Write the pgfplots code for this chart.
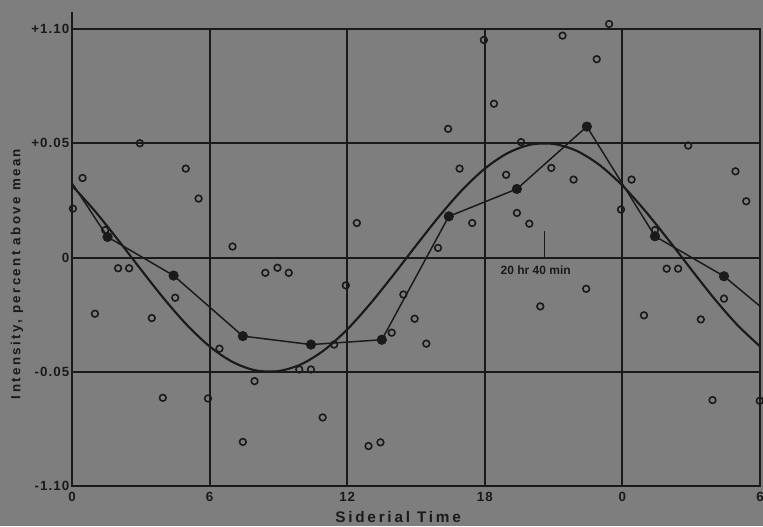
\documentclass[border=0pt]{standalone}
\usepackage{fontspec}
\setmainfont{Liberation Sans}
\newfontfamily\lett[LetterSpace=8]{Liberation Sans}
\newfontfamily\lettwide[LetterSpace=18]{Liberation Sans}
\usepackage{pgfplots}
\pgfplotsset{compat=1.18}
\definecolor{bg}{HTML}{7E7E7E}
\definecolor{ink}{HTML}{1A1A1A}
\begin{document}
\begin{tikzpicture}
\path[use as bounding box, fill=bg] (-54pt,-30pt) rectangle (518.25pt,364.5pt);
\begin{axis}[
  at={(0,0)}, anchor=south west,
  scale only axis, width=516pt, height=342.75pt,
  xmin=0, xmax=30, ymin=-0.1, ymax=0.1,
  clip=false,
  axis line style={draw=ink, line width=1.5pt},
  grid=major, major grid style={draw=ink, line width=1.5pt},
  major tick length=0pt,
  xtick={0,6,12,18,24,30}, xticklabels={0,6,12,18,0,6},
  ytick={-0.1,-0.05,0,0.05,0.1}, yticklabels={-1.10,-0.05,0,+0.05,+1.10},
  tick label style={font=\lett\bfseries\fontsize{10}{12}\selectfont, text=ink},
  yticklabel style={xshift=1.5pt},
  xticklabel style={yshift=-1pt},
]
% extension of left spine above the frame
\addplot[ink, line width=1.5pt] coordinates {(0,0.1) (0,0.1075)};
% fitted sinusoid
\addplot[ink, line width=1.6pt, smooth] coordinates {
(0,0.0315) (1,0.0203) (2,0.0078) (3,-0.0052) (4,-0.0179) (5,-0.0294)
(6,-0.0389) (7,-0.0457) (8,-0.0494) (9,-0.0497) (10,-0.0467) (11,-0.0405)
(12,-0.0315) (13,-0.0203) (14,-0.0078) (15,0.0052) (16,0.0179) (17,0.0294)
(18,0.0389) (19,0.0457) (20,0.0494) (21,0.0497) (22,0.0467) (23,0.0405)
(24,0.0315) (25,0.0203) (26,0.0078) (27,-0.0052) (28,-0.0179) (29,-0.0294)
(30,-0.0389)};
% three-hour means joined
\addplot[ink, line width=1.1pt] coordinates {
(0,0.0326) (1.55,0.009) (4.43,-0.0079) (7.45,-0.0344) (10.42,-0.0381)
(13.51,-0.036) (16.43,0.018) (19.4,0.030) (22.45,0.0573) (25.42,0.0093)
(28.43,-0.0082) (30,-0.0213)};
% individual half-hour values
\addplot[only marks, mark=o, mark size=2.5pt, mark options={draw=ink, fill=bg, line width=1.2pt}] coordinates {
(0.04,0.0214) (0.46,0.0348) (1.0,-0.0246) (1.45,0.012) (2.01,-0.0047) (2.49,-0.0047)
(2.96,0.050) (3.48,-0.0265) (3.96,-0.0614) (4.5,-0.0176) (4.96,0.0389) (5.52,0.0258)
(5.93,-0.0617) (6.43,-0.0399) (7.0,0.0048) (7.45,-0.0807) (7.96,-0.0541) (8.43,-0.0067)
(8.96,-0.0045) (9.45,-0.0067) (9.91,-0.049) (10.42,-0.049) (10.93,-0.070) (11.43,-0.0381)
(11.94,-0.0122) (12.42,0.0151) (12.93,-0.0825) (13.45,-0.0809) (13.94,-0.0329) (14.45,-0.0162)
(14.94,-0.0268) (15.45,-0.0377) (15.96,0.0042) (16.4,0.0563) (16.9,0.0389) (17.45,0.0151)
(17.96,0.0952) (18.4,0.0673) (18.93,0.0362) (19.4,0.0195) (19.58,0.0505) (19.94,0.0148)
(20.42,-0.0214) (20.9,0.0392) (21.39,0.0971) (21.87,0.0341) (22.42,-0.0137) (22.88,0.0868)
(23.42,0.1022) (23.94,0.021) (24.4,0.0341) (24.94,-0.0253) (25.42,0.012) (25.93,-0.0049)
(26.43,-0.0049) (26.87,0.049) (27.42,-0.0271) (27.93,-0.0624) (28.43,-0.018) (28.93,0.0377)
(29.4,0.0246) (29.99,-0.0627)};
% mean points
\addplot[only marks, mark=*, mark size=3.6pt, mark options={draw=ink, fill=ink}] coordinates {
(1.55,0.009) (4.43,-0.0079) (7.45,-0.0344) (10.42,-0.0381) (13.51,-0.036)
(16.43,0.018) (19.4,0.030) (22.45,0.0573) (25.42,0.0093) (28.43,-0.0082)};
% phase marker
\addplot[ink, line width=1pt] coordinates {(20.6,0) (20.6,0.0114)};
\node[anchor=west, font=\bfseries\fontsize{9}{11}\selectfont, text=ink, inner sep=0pt] at (axis cs:18.68,-0.0055) {20 hr 40 min};
\node[rotate=90, font=\lettwide\bfseries\fontsize{10}{12}\selectfont, text=ink] at (rel axis cs:-0.08,0.464) {Intensity, percent above mean};
\node[font=\lettwide\bfseries\fontsize{11.5}{13}\selectfont, text=ink] at (rel axis cs:0.474,-0.0678) {Siderial Time};
\end{axis}
\end{tikzpicture}
\end{document}
